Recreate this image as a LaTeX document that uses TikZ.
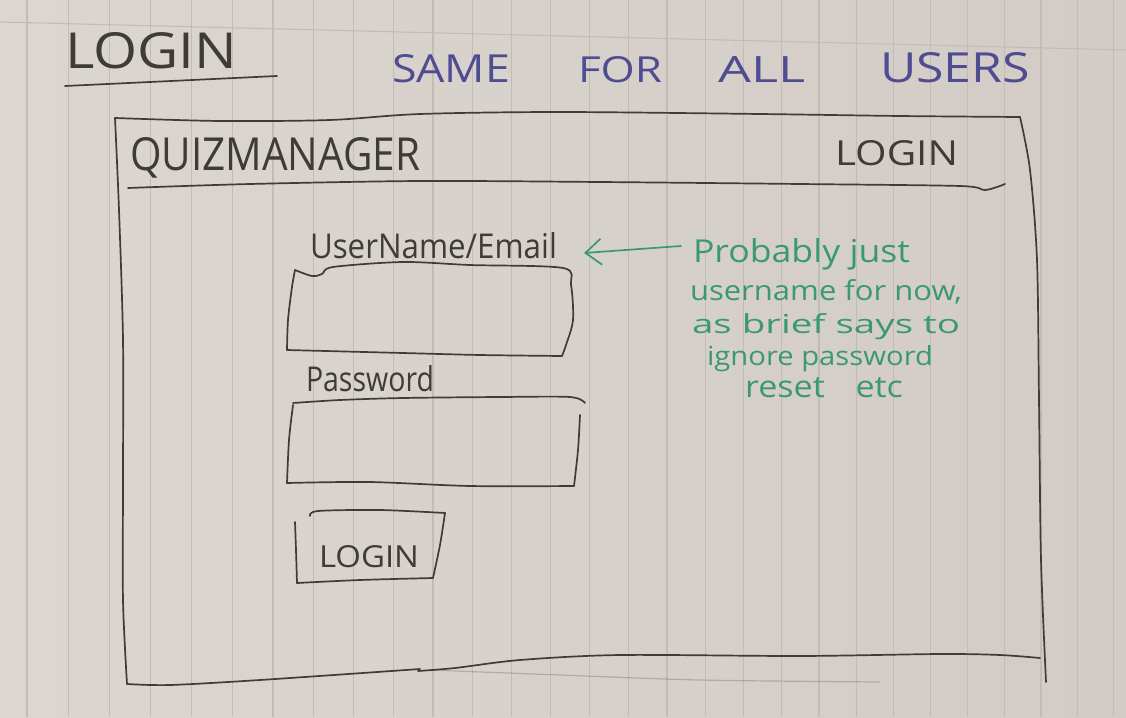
\documentclass[tikz,border=0pt]{standalone}
\usepackage{fontspec}
\setmainfont{Open Sans}
\usetikzlibrary{arrows.meta}

\definecolor{paperL}{HTML}{DCD6D0}
\definecolor{paperR}{HTML}{D3CCC6}
\definecolor{ruleline}{HTML}{C3BCB6}
\definecolor{pencil}{HTML}{3F3B39}
\definecolor{bluepen}{HTML}{4E4D92}
\definecolor{greenpen}{HTML}{3A9876}

\tikzset{
  ruling/.style={draw=ruleline, line width=1.1pt},
  stroke/.style={draw=pencil, line width=1.7pt, line cap=round, line join=round},
  faintstroke/.style={draw=pencil, line width=1.2pt, opacity=0.25, line cap=round},
  hand/.style={inner sep=0pt, outer sep=0pt, anchor=north west, text=pencil},
  blueink/.style={hand, text=bluepen},
  greenink/.style={hand, text=greenpen},
  notearrow/.style={draw=greenpen, line width=1.7pt, line cap=round,
    -{Straight Barb[length=16pt,width=26pt,line width=1.7pt]}},
  wobbly/.style={smooth, tension=0.5},
}

\begin{document}
\begin{tikzpicture}[x=1pt,y=-1pt]
% ruled notebook paper
\shade[left color=paperL, right color=paperR] (0,0) rectangle (1126,717);
\useasboundingbox (0,0) rectangle (1126,717);
\foreach \i in {0,...,28} {
  \pgfmathsetmacro\xx{27+41.6*\i-0.1*\i*\i}
  \draw[ruling] (\xx,0) -- (\xx,717);
}
\draw[ruling] (0,22) -- (1126,50);

% page heading
\node[hand] (title) at (65,32) {\resizebox{172pt}{36pt}{LOGIN}};
\draw[stroke] (65,86) -- (277,76);
\node[blueink] (subtitle) at (392,52) {\resizebox{118pt}{28pt}{SAME}\hspace{68pt}\resizebox{84pt}{26pt}{FOR}\hspace{56pt}\resizebox{87pt}{26pt}{ALL}\hspace{75pt}\resizebox{150pt}{30pt}{USERS}};

% window frame
\draw[stroke] plot[wobbly] coordinates {(115,118) (220,121) (330,120) (420,114) (560,112) (760,114) (900,116) (1020,117)};
\draw[stroke] plot[wobbly] coordinates {(1020,117) (1030,170) (1037,260) (1039,400) (1041,560) (1046,682)};
\draw[stroke] plot[wobbly] coordinates {(115,118) (119,210) (123,340) (123,480) (123,600) (127,684)};
\draw[stroke] plot[wobbly] coordinates {(127,684) (170,685) (260,680) (420,669)};
\draw[stroke] plot[wobbly] coordinates {(418,671) (455,668) (520,660) (620,655) (800,656) (940,654) (1000,655) (1040,658)};
\draw[faintstroke] plot[wobbly] coordinates {(430,670) (560,675) (700,680) (880,682)};

% header bar
\draw[stroke] plot[wobbly] coordinates {(128,188) (250,184) (420,181) (600,182) (800,184) (960,186) (985,190) (1005,184)};
\node[hand] (brand) at (130,137) {\resizebox{290pt}{33pt}{QUIZMANAGER}};
\node[hand] (navlogin) at (835,140) {\resizebox{123pt}{25pt}{LOGIN}};

% user name field
\node[hand] (userlbl) at (310,232) {\resizebox{247pt}{26pt}{UserName/Email}};
\draw[stroke] plot[wobbly] coordinates {(295,270) (312,276) (322,274) (333,267) (403,262) (470,265) (563,268) (571,285) (573,320) (566,345) (562,356)};
\draw[stroke] plot[wobbly] coordinates {(562,356) (480,355) (403,353) (287,350)};
\draw[stroke] plot[wobbly] coordinates {(287,350) (288,320) (292,287) (295,270)};

% password field
\node[hand] (passlbl) at (306,365) {\resizebox{128pt}{26pt}{Password}};
\draw[stroke] plot[wobbly] coordinates {(293,403) (340,400) (403,398) (500,397) (570,397) (585,403)};
\draw[stroke] plot[wobbly] coordinates {(580,415) (578,450) (574,486)};
\draw[stroke] plot[wobbly] coordinates {(574,486) (470,486) (370,482) (287,483)};
\draw[stroke] plot[wobbly] coordinates {(287,483) (289,440) (293,405)};

% login button
\draw[stroke] plot[wobbly] coordinates {(310,516) (318,511) (380,510) (445,513)};
\draw[stroke] plot[wobbly] coordinates {(445,513) (440,545) (433,578)};
\draw[stroke] plot[wobbly] coordinates {(433,578) (360,580) (297,583)};
\draw[stroke] plot[wobbly] coordinates {(297,583) (296,550) (295,522)};
\node[hand] (btnlbl) at (319,545) {\resizebox{100pt}{22pt}{LOGIN}};

% margin note
\node[greenink] (note1) at (693,238) {\resizebox{217pt}{24pt}{Probably just}};
\node[greenink] (note2) at (690,279) {\resizebox{272pt}{21pt}{username for now,}};
\node[greenink] (note3) at (692,313) {\resizebox{268pt}{20pt}{as brief says to}};
\node[greenink] (note4) at (707,345) {\resizebox{226pt}{20pt}{ignore password}};
\node[greenink] (note5) at (745,377) {\resizebox{158pt}{20pt}{reset\hspace{0.9em}etc}};
\coordinate (arrowtail) at (681,246);
\coordinate (arrowtip) at (584,253);
\draw[notearrow] (arrowtail) -- (arrowtip);
\end{tikzpicture}
\end{document}
